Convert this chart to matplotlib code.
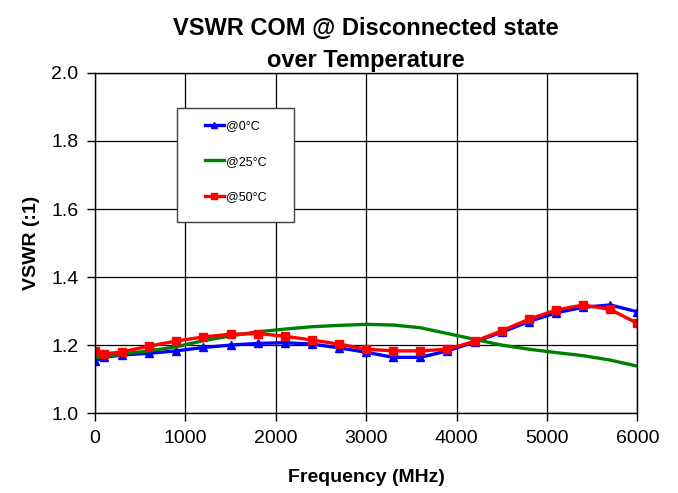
import numpy as np
import matplotlib
matplotlib.use("Agg")
import matplotlib.pyplot as plt
from matplotlib.patches import Rectangle

plt.rcParams['font.family'] = ['Liberation Sans', 'DejaVu Sans']

# frequency points (MHz)
freq = [0, 100, 300, 600, 900, 1200, 1500, 1800, 2100, 2400, 2700,
        3000, 3300, 3600, 3900, 4200, 4500, 4800, 5100, 5400, 5700, 6000]

vswr_0c = [1.153, 1.164, 1.171, 1.176, 1.183, 1.193, 1.200, 1.205, 1.207, 1.203, 1.192,
           1.179, 1.164, 1.164, 1.183, 1.209, 1.238, 1.269, 1.295, 1.311, 1.318, 1.298]

vswr_25c = [1.163, 1.166, 1.174, 1.183, 1.195, 1.213, 1.227, 1.239, 1.247, 1.254, 1.258,
            1.261, 1.259, 1.251, 1.234, 1.217, 1.200, 1.188, 1.178, 1.169, 1.156, 1.138]

vswr_50c = [1.183, 1.174, 1.180, 1.197, 1.212, 1.224, 1.232, 1.234, 1.226, 1.215, 1.203,
            1.188, 1.183, 1.183, 1.188, 1.211, 1.242, 1.276, 1.303, 1.318, 1.305, 1.264]

xticks = [0, 1000, 2000, 3000, 4000, 5000, 6000]
yticks = [1.0, 1.2, 1.4, 1.6, 1.8, 2.0]

fig = plt.figure(figsize=(6.78, 4.93), dpi=100)
ax = fig.add_axes([0.140, 0.162, 0.800, 0.690])

ax.plot(freq, vswr_0c, color='#0000ff', lw=2.4, marker='^', ms=6, label='@0°C')
ax.plot(freq, vswr_25c, color='#008000', lw=2.4, label='@25°C')
ax.plot(freq, vswr_50c, color='#ff0000', lw=2.4, marker='s', ms=6, label='@50°C')

ax.set_xlim(0, 6000)
ax.set_ylim(1.0, 2.0)
ax.set_xticks(xticks)
ax.set_yticks(yticks)
ax.set_yticklabels([f"{v:.1f}" for v in yticks])
ax.grid(True, color='black', lw=0.9)
ax.set_axisbelow(True)
for s in ax.spines.values():
    s.set_color('black')
    s.set_linewidth(1.0)
ax.tick_params(direction='out', length=6, width=1, labelsize=14, pad=6)

ax.set_xlabel('Frequency (MHz)', fontsize=14, fontweight='bold', labelpad=16)
ax.set_ylabel('VSWR (:1)', fontsize=14, fontweight='bold', labelpad=8)
ax.set_title('VSWR COM @ Disconnected state\nover Temperature', fontsize=17,
             fontweight='bold', pad=4, linespacing=1.5)

# legend box drawn separately, legend entries placed inside it
box = Rectangle((0.151, 0.562), 0.216, 0.335, transform=ax.transAxes,
                facecolor='white', edgecolor='#404040', lw=1.0, zorder=4)
ax.add_patch(box)
leg = ax.legend(loc='upper left', bbox_to_anchor=(0.203, 0.862),
                borderaxespad=0, borderpad=0, fontsize=9, handlelength=1.5,
                handletextpad=0.2, labelspacing=1.9, frameon=False,
                markerscale=0.8)
leg.set_zorder(5)

fig.savefig('out.png', dpi=100)
